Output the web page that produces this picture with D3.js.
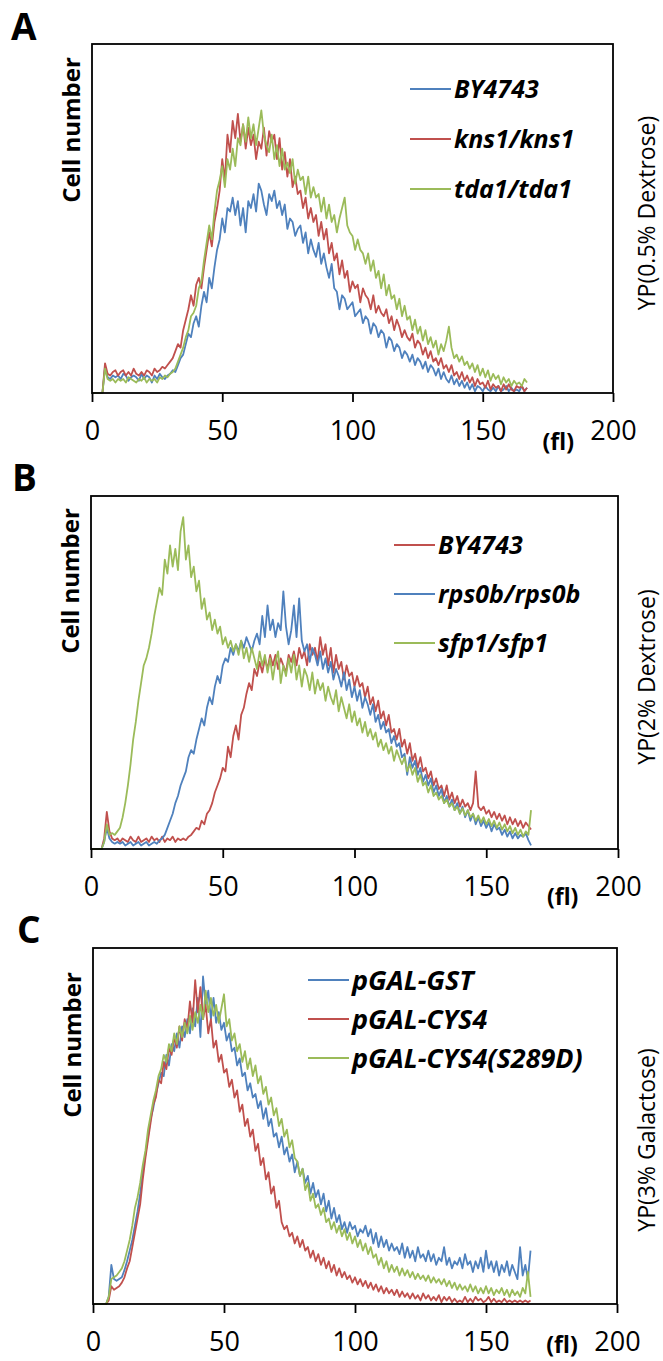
<!DOCTYPE html>
<html>
<head>
<meta charset="utf-8">
<script src="https://cdnjs.cloudflare.com/ajax/libs/d3/7.8.5/d3.min.js"></script>
<style>
  body { margin: 0; background: #fff; }
  svg { display: block; font-family: "Open Sans", "DejaVu Sans", sans-serif; }
</style>
</head>
<body>
<svg id="chart" width="663" height="1361"></svg>
<script>
// cell volume bins (fl), one value per bin
var volumes = d3.range(0, 168);
var xTicks = [0, 50, 100, 150, 200];

// Panel A : YP (0.5% Dextrose)
var namesA = ["BY4743", "kns1/kns1", "tda1/tda1"];
var aBY4743 = [0,0,0,0,0,7.5,4.5,4,5,4.5, 5,4,5.5,5,3.5,4.5,5,4.5,3.5,5.5, 4,5,4.5,3,5,4,5.5,4.5,4,5,
  5.5,6.5,6,8,10,11,14,17,16,20, 22,19,25,29,26,33,30,36,41,44, 50,46,53,52,56,51,55,48,53,46,
  55,53,57,52,60,58,54,51,57,55, 58,53,55,51,54,47,50,49,45,47, 48,43,46,40,44,41,39,43,37,40,
  36,33,37,30,29,24,28,27,24,25, 26,22,23,24,20,22,21,17,20,19, 16,18,17,13,16,15,12,14,13,10,
  12,11,9,11,8,10,9,7,9,6, 8,7,5,7,4,6,4,3,5,2.5, 4,2,3.5,1.5,3,1,2.5,0.5,2,1.5,
  0.5,2,1,0.5,1.5,0.5,2,0.5,1,2, 0.5,1.5,0.5,1,0.5,2,0.5,1.5];
var aKns1 = [0,0,0,0,0,8.5,5.5,5,6,6.5, 5,6,6.5,5,6,5,7,5.5,5,6, 5,6.5,6,5,7,6,6.5,7.5,7,8,
  9,10,12,14,13,18,21,24,28,25, 31,33,30,36,41,46,42,49,53,58, 67,61,74,69,78,73,80,72,77,70,
  76,71,74,67,72,70,76,68,75,72, 74,67,73,64,69,62,67,59,62,57, 58,53,56,50,53,49,51,45,49,44,
  47,40,43,38,40,34,38,33,35,29, 32,30,31,26,30,28,27,24,28,23, 25,23,22,24,20,22,18,21,19,16,
  18,16,15,17,13,15,14,11,13,10, 12,9,10,8,10,7,8,6,8,5, 6,4,6,3.5,5,3,4.5,2,4,2.5,
  3,1.5,3.5,1,2.5,1.5,2,0.5,2.5,1, 2.5,1,0.5,2,1.5,2,0.5,1.5];
var aTda1 = [0,0,0,0,0,7,4,3.5,4,3, 4,3.5,4,3,4.5,4,3.5,3,4,3.5, 4.5,3,4,3.5,4,3,4.5,4,5,4.5,
  5.5,6,7,9,11,13,16,18,22,23, 25,30,32,38,43,48,44,52,58,61, 65,59,67,64,70,65,73,71,77,72,
  79,73,77,71,76,81,74,71,69,74, 67,71,65,70,64,66,63,67,60,64, 61,62,57,62,56,59,56,57,52,56,
  50,54,49,51,46,50,53,56,48,46, 45,41,44,41,40,37,40,35,38,33, 35,30,34,28,31,27,28,24,27,22,
  25,21,22,18,21,17,19,15,18,14, 16,13,15,11,14,12,15,19,13,10, 11,9,10.5,8,9,7,8.5,6,8,5,
  7,4.5,6.5,3.5,5.5,4,5,2.5,4.5,3, 4,2,3.5,2.5,3,2,4,3];

// Panel B : YP (2% Dextrose)
var namesB = ["BY4743", "rps0b/rps0b", "sfp1/sfp1"];
var bBY4743 = [0,0,0,0,0,3,10.5,5,3,2.5, 3,2,3,2.5,2,3.5,2.5,2,3.5,2, 2.5,3,2,3.5,2.5,3,2,3.5,2,3,
  2.5,3.5,2,3,2.5,3,2.5,3.5,4,5, 6,5.5,8,7,10,11,13,16,18,20, 23,22,29,26,32,35,31,38,40,44,
  47,45,51,49,53,50,54,51,55,52, 55,51,54,52,50,55,53,56,52,57, 54,56,52,58,55,57,53,60,55,58,
  52,57,50,55,51,53,48,52,49,50, 46,49,46,47,43,46,41,43,39,42, 37,39,35,38,33,34,31,34,29,31,
  27,30,25,27,23,26,22,23,20,22, 18,20,17,18,15,18,14,16,13,15, 12,14,12,13,11,13,22,12,11,12,
  10,11,9,10.5,8.5,10,8,9.5,7,9, 7,8.5,6.5,8,6,7.5,6.5,5.5];
var bRps0b = [0,0,0,0,0,2,6,3,2,1.5, 2,1.5,2,1,1.5,2,1,1.5,2,1, 1.5,2,1,1.5,2,1.5,2.5,3,4,6,
  8,10,13,15,18,20,22,26,28,27, 31,34,37,35,40,43,41,46,49,47, 52,54,53,57,55,58,56,59,57,60,
  58,56,59,61,58,66,60,69,62,65, 60,64,62,73,63,58,62,69,60,71, 59,56,58,53,57,55,52,56,51,54,
  50,53,48,51,49,46,50,45,48,43, 46,42,45,40,43,41,38,41,36,38, 34,36,33,34,30,32,29,30,26,27,
  21,26,23,25,21,23,19,21,18,20, 16,18,15,17,13,15,12,14,11,13, 10,12,9,11,8,10,7,9,6.5,8,
  6,7.5,5,7,5.5,6,4,5.5,3.5,5, 3,4.5,3,4,3.5,4.5,2.5,1];
var bSfp1 = [0,0,0,0,0,2,7,4,4.5,4, 5,6,9,13,18,24,31,36,42,47, 52,54,57,61,66,70,74,72,82,78,
  86,80,85,79,90,94,82,86,77,80, 73,76,68,71,65,67,62,65,61,63, 58,60,57,59,56,58,55,59,54,57,
  53,57,54,51,56,52,55,50,54,48, 53,56,47,52,49,54,50,55,48,52, 46,51,49,45,50,44,48,45,47,42,
  46,43,41,45,39,43,40,37,41,36, 39,35,37,33,36,32,34,31,33,29, 31,28,30,27,29,25,28,26,24,26,
  22,24,21,23,19,21,18,19,16,18, 15,16,14,15,13,14,12,13,11,12, 10,11.5,9.5,11,9,10,8,9.5,7.5,9,
  7,8.5,6.5,8,6,7.5,5.5,7,5,6.5, 4.5,6,4,5.5,3.5,5,4,11];

// Panel C : YP (3% Galactose)
var namesC = ["pGAL-GST", "pGAL-CYS4", "pGAL-CYS4(S289D)"];
var cGST = [0,0,0,0,0,0,2,11,7,6.5, 7,7.5,9.5,12,15,18,22,26,31,37, 42,47,52,55,59,62,65,64,70,67,
  73,71,76,72,78,75,80,76,83,78, 86,75,92,84,88,80,86,79,82,77, 79,74,76,71,72,67,69,64,65,60,
  62,58,59,55,57,52,55,50,52,47, 48,44,47,42,44,40,42,37,40,36, 38,34,36,31,34,30,32,28,31,26,
  29,24,27,23,25,21,23,20,23,21, 22,19,21,20,22,19,21,17,20,16, 19,16,18,15,17,15,16,14,17,13,
  16,13,15,12,16,13,14,12,15,12, 14,11,13,12,16,11,13,10,12,11, 13,10,14,11,12,9,12,10,13,9,
  15,10,12,9,12,8,11,9,12,8, 11,9,7,16,8,11,7,15];
var cCYS4 = [0,0,0,0,0,0,1,5,4,4.5, 5,6,7.5,10,12,16,20,24,28,35, 41,46,51,56,58,63,62,68,66,72,
  70,75,72,78,74,80,77,85,79,91, 82,89,80,84,76,80,72,74,68,70, 65,66,61,63,58,60,54,56,50,52,
  47,49,43,45,39,41,35,37,31,33, 27,29,23,21,22,19,20,17,19,16, 18,15,16,13,15,12,14,11,13,10,
  12,9,11,8,10,7.5,9,7,8,6, 7.5,5.5,7,5,6.5,4.5,6,4,5.5,3.5, 5,3,4.5,3,4,2.5,4,2,3.5,2,
  3,1.5,3,1.5,2.5,1,3,1.5,2.5,1, 2,1,2.5,0.5,2,1,2,0.5,1.5,0.5, 1,0.5,2,0.5,1.5,0.5,2,1,1.5,0.5,
  1,2,0.5,1.5,0.5,1,0.5,1.5,0.5,1, 0.5,1,0.5,1,0.5,1,0.5,1];
var cS289D = [0,0,0,0,0,0,2,7,7.5,8, 9,10,12,15,18,22,27,30,34,39, 43,49,53,57,60,64,66,70,68,73,
  71,76,73,78,75,79,76,81,77,82, 79,84,80,88,82,86,81,84,79,83, 87,78,80,74,76,71,73,68,71,66,
  69,64,67,62,64,59,61,56,58,53, 55,50,52,47,49,44,46,41,40,36, 38,32,34,29,31,27,28,25,27,23,
  24,21,23,20,22,19,21,18,20,17, 19,16,18,15,17,14,16,13,14,11, 13,10,12,9,11,9,10.5,8,10,8,
  9.5,7.5,9,7,8.5,7,8,6.5,8,6, 7.5,6,7,5.5,7,5,6.5,4.5,6,4, 5.5,4,5,3.5,5.5,3.5,5,3,4.5,3,
  5,3,4.5,2.5,4,3,4.5,2.5,4,2, 4,2.5,3.5,2,4.5,3,9,2];

var blue = "#4f81bd", red = "#c0504d", green = "#9bbb59";

// layout of the three panels (pixels)
var panels = [
  {letter: "A", lx: 11, ly: 40, left: 92, top: 44, right: 613, bottom: 393,
   names: namesA, series: [aBY4743, aKns1, aTda1], colors: [blue, red, green],
   legX: 410, legY: 89, legGap: 50, legFont: 25, unitY: 57,
   titleY: 130, cond: "YP(0.5% Dextrose)", condY: 213},
  {letter: "B", lx: 12, ly: 491, left: 91, top: 496, right: 618, bottom: 849,
   names: namesB, series: [bBY4743, bRps0b, bSfp1], colors: [red, blue, green],
   legX: 394, legY: 545, legGap: 49, legFont: 25, unitY: 56,
   titleY: 581, cond: "YP(2% Dextrose)", condY: 677},
  {letter: "C", lx: 17, ly: 943, left: 93, top: 948, right: 617, bottom: 1304,
   names: namesC, series: [cGST, cCYS4, cS289D], colors: [blue, red, green],
   legX: 308, legY: 980, legGap: 39, legFont: 27, unitY: 49,
   titleY: 1045, cond: "YP(3% Galactose)", condY: 1140}
];

var svg = d3.select("#chart");

panels.forEach(function(p) {
  var x = d3.scaleLinear().domain([0, 200]).range([p.left, p.right]);
  var y = d3.scaleLinear().domain([0, 100]).range([p.bottom, p.top]);
  var g = svg.append("g");

  // panel letter
  g.append("text")
    .attr("x", p.lx).attr("y", p.ly)
    .style("font-size", "37px").style("font-weight", "bold")
    .text(p.letter);

  // histogram traces
  var line = d3.line()
    .x(function(d, i) { return x(volumes[i]); })
    .y(function(d) { return y(d); });
  p.series.forEach(function(s, k) {
    g.append("path")
      .datum(s)
      .attr("d", line)
      .attr("fill", "none")
      .attr("stroke", p.colors[k])
      .attr("stroke-width", 1.8)
      .attr("stroke-linejoin", "round");
  });

  // frame
  g.append("rect")
    .attr("x", p.left).attr("y", p.top)
    .attr("width", p.right - p.left).attr("height", p.bottom - p.top)
    .attr("fill", "none").attr("stroke", "#000").attr("stroke-width", 1.8);

  // x axis
  var xAxis = d3.axisBottom(x).tickValues(xTicks).tickSize(9).tickSizeOuter(0).tickPadding(19);
  var ax = g.append("g")
    .attr("transform", "translate(0," + p.bottom + ")")
    .call(xAxis);
  ax.select(".domain").remove();
  ax.selectAll(".tick line").attr("stroke", "#000").attr("stroke-width", 1.8);
  ax.selectAll(".tick text")
    .attr("fill", "#000")
    .style("font-size", "27px")
    .style("font-family", "'Open Sans', sans-serif");

  // unit
  g.append("text")
    .attr("x", x(179)).attr("y", p.bottom + p.unitY)
    .attr("text-anchor", "middle")
    .style("font-size", "23px").style("font-weight", "bold")
    .text("(fl)");

  // y title
  g.append("text")
    .attr("transform", "translate(" + (p.left - 12) + "," + p.titleY + ") rotate(-90)")
    .attr("text-anchor", "middle")
    .style("font-size", "24px").style("font-weight", "bold")
    .text("Cell number");

  // growth condition
  g.append("text")
    .attr("transform", "translate(" + 655 + "," + p.condY + ") rotate(-90)")
    .attr("text-anchor", "middle")
    .style("font-size", "23px")
    .text(p.cond);

  // legend
  p.names.forEach(function(n, k) {
    var ly = p.legY + k * p.legGap;
    g.append("line")
      .attr("x1", p.legX).attr("x2", p.legX + 41)
      .attr("y1", ly).attr("y2", ly)
      .attr("stroke", p.colors[k]).attr("stroke-width", 1.8);
    g.append("text")
      .attr("x", p.legX + 44).attr("y", ly)
      .attr("dy", "0.36em")
      .style("font-size", p.legFont + "px")
      .style("font-weight", "bold").style("font-style", "italic")
      .text(n);
  });
});
</script>
</body>
</html>
